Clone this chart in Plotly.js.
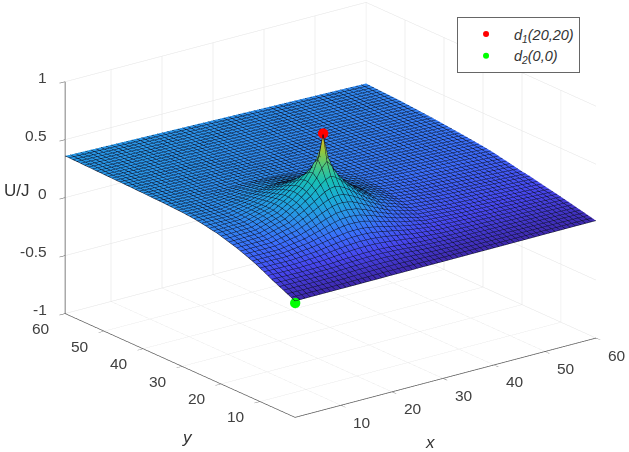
<!DOCTYPE html>
<html><head><meta charset="utf-8">
<script src="https://cdn.plot.ly/plotly-3.0.1.min.js"></script>
<style>html,body{margin:0;padding:0;background:#fff}#c{width:629px;height:452px}</style>
</head><body><div id="c"></div>
<script>
var xNodes=[1,7,12,15,17,18,19,20,21,22,23,24,25,27,30,35,42,51,60];
var yNodes=[1,7,11,14,16,17,18,19,20,21,22,23,25,27,30,35,42,51,60];
var zRows=[
[.004,.005,.005,.006,.006,.006,.007,.007,.007,.007,.007,.007,.008,.008,.008,.009,.010,.012,.013],
[.100,.096,.100,.109,.113,.115,.116,.117,.116,.116,.113,.111,.108,.100,.087,.077,.072,.066,.060],
[.170,.166,.188,.211,.226,.232,.238,.239,.239,.237,.232,.224,.215,.195,.164,.128,.114,.102,.090],
[.210,.211,.251,.294,.328,.341,.355,.358,.361,.354,.348,.331,.314,.274,.221,.163,.141,.125,.110],
[.235,.239,.293,.354,.400,.423,.441,.455,.458,.451,.434,.412,.385,.331,.259,.187,.159,.142,.125],
[.245,.251,.309,.378,.434,.462,.491,.509,.517,.505,.483,.451,.419,.355,.274,.198,.166,.149,.132],
[.255,.262,.326,.403,.464,.502,.540,.573,.591,.569,.532,.490,.448,.379,.290,.208,.175,.158,.140],
[.265,.273,.338,.417,.487,.530,.583,.656,.704,.652,.575,.518,.471,.392,.301,.216,.182,.163,.145],
[.275,.282,.348,.430,.501,.549,.612,.715,.925,.711,.603,.536,.484,.405,.310,.223,.188,.169,.150],
[.285,.292,.356,.435,.505,.548,.601,.674,.722,.669,.592,.535,.488,.409,.317,.231,.196,.177,.157],
[.290,.296,.359,.435,.496,.534,.572,.605,.623,.601,.563,.521,.479,.410,.320,.237,.203,.184,.165],
[.297,.302,.359,.427,.483,.511,.539,.557,.565,.553,.530,.498,.466,.402,.320,.243,.210,.191,.172],
[.310,.310,.356,.407,.446,.464,.477,.485,.488,.481,.468,.451,.429,.382,.317,.251,.223,.204,.185],
[.320,.316,.349,.384,.407,.417,.425,.429,.429,.425,.417,.405,.391,.359,.312,.259,.237,.218,.200],
[.330,.320,.334,.350,.359,.363,.366,.367,.366,.363,.358,.351,.343,.326,.298,.266,.250,.233,.215],
[.337,.327,.320,.318,.318,.319,.317,.316,.314,.313,.310,.308,.304,.297,.289,.278,.266,.251,.235],
[.345,.336,.329,.325,.322,.321,.319,.318,.316,.315,.313,.312,.310,.307,.303,.296,.286,.273,.260],
[.352,.345,.340,.336,.334,.333,.332,.330,.329,.328,.327,.326,.325,.322,.319,.313,.305,.295,.285],
[.360,.354,.349,.346,.344,.343,.342,.341,.340,.339,.338,.337,.336,.334,.331,.326,.319,.310,.301]
];
var peakPoint={x:[21],y:[20],z:[.93]};
var originPoint={x:[1],y:[1],z:[-.012]};
var tickVals=[10,20,30,40,50,60];
var zTicks=[-1,-.5,0,.5,1];
var zLabels=['-1','-0.5','0','0.5','1'];
var parula=[[0,'#3e26a8'],[.1,'#4748f1'],[.2,'#3b6ffb'],[.3,'#2a94e8'],[.4,'#1aaed6'],[.5,'#18bfb4'],[.6,'#4cc77f'],[.7,'#95c83c'],[.8,'#dcbd2b'],[.9,'#fdd32f'],[1,'#f9fb15']];
function ax(t,rng){return {range:rng,tickmode:'array',tickvals:t,title:{text:''},showticklabels:false,showgrid:true,gridcolor:'#e2e2e2',gridwidth:1,
 zeroline:false,showbackground:false,showline:true,linecolor:'#555',linewidth:1.5,ticks:'outside',ticklen:7,tickcolor:'#555',tickwidth:1,showspikes:false};}
var dist=3,c=[-.57,-.746,.345],ctr=[-.0565,.0432,-.076];
var tickFont={family:'Liberation Sans, Arial',size:15.5,color:'#404040'};
var sceneNotes=[];
tickVals.forEach(function(t){
 sceneNotes.push({x:t,y:1,z:-1,text:String(t),showarrow:false,xshift:21,yshift:-17,font:tickFont});
 sceneNotes.push({x:1,y:t,z:-1,text:String(t),showarrow:false,xshift:-24,yshift:-15,font:tickFont});
});
zTicks.forEach(function(t,i){
 sceneNotes.push({x:1,y:60,z:t,text:zLabels[i],showarrow:false,xanchor:'right',xshift:-16,yshift:4,font:tickFont});
});
var data=[
{type:'surface',x:xNodes,y:yNodes,z:zRows,cmin:0,cmax:1.12,colorscale:parula,showscale:false,showlegend:false,hoverinfo:'skip',
 lighting:{ambient:1,diffuse:0,specular:0,roughness:1,fresnel:0},
 contours:{x:{show:true,start:1,end:60,size:1,color:'#0c1024',width:3},y:{show:true,start:1,end:60,size:1,color:'#0c1024',width:3},z:{show:false}}},
{type:'scatter3d',mode:'markers',name:'<i>d<sub>1</sub>(20,20)</i>',x:peakPoint.x,y:peakPoint.y,z:peakPoint.z,marker:{color:'#ff0000',size:6}},
{type:'scatter3d',mode:'markers',name:'<i>d<sub>2</sub>(0,0)</i>',x:originPoint.x,y:originPoint.y,z:originPoint.z,marker:{color:'#00ff00',size:6}}
];
var labelFont={family:'Liberation Sans, Arial',size:17,color:'#333'};
var layout={width:629,height:452,margin:{l:0,r:0,t:0,b:0},paper_bgcolor:'#fff',showlegend:true,
 legend:{x:.7266,y:.9624,xanchor:'left',yanchor:'top',bgcolor:'#fff',bordercolor:'#666',borderwidth:1,itemwidth:46,entrywidth:72,font:{family:'Liberation Sans, Arial',size:14.5,color:'#333'}},
 scene:{domain:{x:[0,1],y:[0,1]},aspectmode:'manual',aspectratio:{x:1.676,y:1.676,z:1.093},annotations:sceneNotes,
  xaxis:ax(tickVals,[1,60]),yaxis:ax(tickVals,[1,60]),zaxis:ax(zTicks,[-1,1]),
  camera:{projection:{type:'orthographic'},eye:{x:c[0]*dist+ctr[0],y:c[1]*dist+ctr[1],z:c[2]*dist+ctr[2]},center:{x:ctr[0],y:ctr[1],z:ctr[2]},up:{x:0,y:0,z:1}}},
 annotations:[
  {xref:'paper',yref:'paper',x:17/629,y:1-190/452,xanchor:'center',yanchor:'middle',text:'U/J',showarrow:false,font:labelFont},
  {xref:'paper',yref:'paper',x:187/629,y:1-437/452,xanchor:'center',yanchor:'middle',text:'<i>y</i>',showarrow:false,font:labelFont},
  {xref:'paper',yref:'paper',x:430/629,y:1-442/452,xanchor:'center',yanchor:'middle',text:'<i>x</i>',showarrow:false,font:labelFont}
 ]};
Plotly.newPlot('c',data,layout,{displayModeBar:false});
</script></body></html>
